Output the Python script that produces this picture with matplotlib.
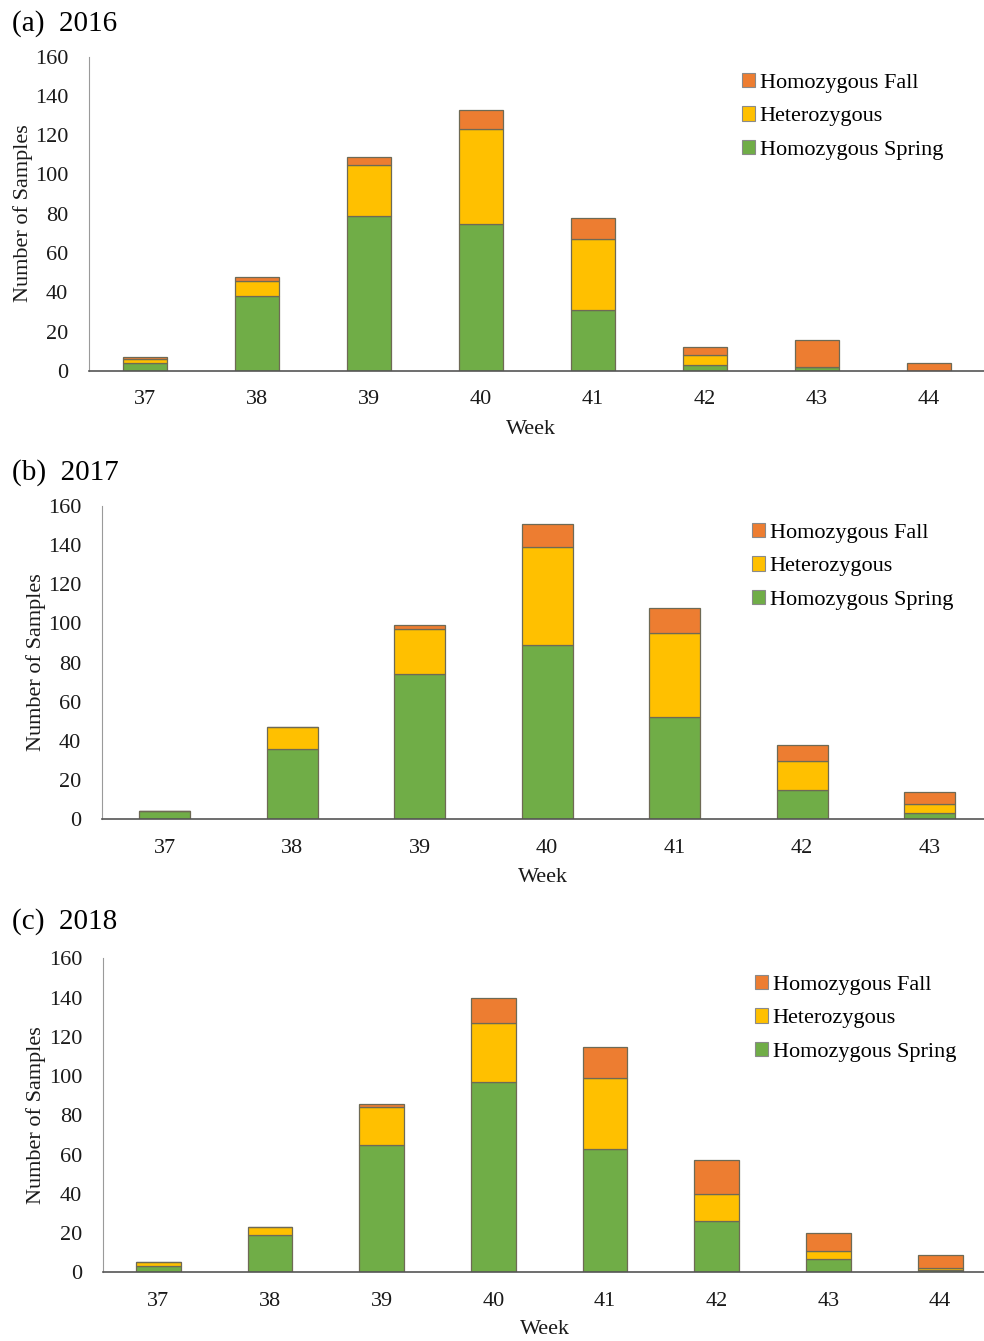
import matplotlib
matplotlib.use("Agg")
import matplotlib.pyplot as plt
from matplotlib.patches import Patch

plt.rcParams['font.family'] = ['Liberation Serif', 'DejaVu Serif']

W, H = 984, 1341

labels = ["Homozygous Fall", "Heterozygous", "Homozygous Spring"]
c_fall, c_het, c_spring = "#ED7D31", "#FFC000", "#70AD47"

weeks_2016 = [37, 38, 39, 40, 41, 42, 43, 44]
spring_2016 = [4, 38, 79, 75, 31, 3, 2, 0]
het_2016 = [2, 8, 26, 48, 36, 5, 0, 0]
fall_2016 = [1, 2, 4, 10, 11, 4, 14, 4]

weeks_2017 = [37, 38, 39, 40, 41, 42, 43]
spring_2017 = [4, 36, 74, 89, 52, 15, 3]
het_2017 = [0, 11, 23, 50, 43, 15, 5]
fall_2017 = [0, 0, 2, 12, 13, 8, 6]

weeks_2018 = [37, 38, 39, 40, 41, 42, 43, 44]
spring_2018 = [3, 19, 65, 97, 63, 26, 7, 1]
het_2018 = [2, 4, 19, 30, 36, 14, 4, 1]
fall_2018 = [0, 0, 2, 13, 16, 17, 9, 7]

panels = [
    dict(title="(a)  2016", weeks=weeks_2016, sp=spring_2016, he=het_2016, fa=fall_2016,
         left=89, y0=371, y160=56.5, x37=145, step=112.0,
         title_y=24, xlab=(531, 430), ylab=(23, 213), leg=(742, 73)),
    dict(title="(b)  2017", weeks=weeks_2017, sp=spring_2017, he=het_2017, fa=fall_2017,
         left=102, y0=819.3, y160=506, x37=164.5, step=127.5,
         title_y=473, xlab=(543, 878), ylab=(36, 662), leg=(752, 523)),
    dict(title="(c)  2018", weeks=weeks_2018, sp=spring_2018, he=het_2018, fa=fall_2018,
         left=103, y0=1272.3, y160=958.3, x37=158.3, step=111.7,
         title_y=922, xlab=(545, 1330), ylab=(36, 1115), leg=(755, 975)),
]

fig = plt.figure(figsize=(W / 100, H / 100), dpi=100)
edge = "#6e6a55"

for p in panels:
    ax = fig.add_axes([p['left'] / W, 1 - p['y0'] / H, (W - p['left']) / W,
                       (p['y0'] - p['y160']) / H])
    xl = 37 - (p['x37'] - p['left']) / p['step']
    xr = xl + (W - p['left']) / p['step']
    ax.set_xlim(xl, xr)
    ax.set_ylim(0, 160)
    wk = p['weeks']
    sp, he, fa = p['sp'], p['he'], p['fa']
    bw = 0.4
    ax.bar(wk, sp, width=bw, color=c_spring, edgecolor=edge, linewidth=0.9, zorder=2)
    ax.bar(wk, he, width=bw, bottom=sp, color=c_het, edgecolor=edge, linewidth=0.9, zorder=2)
    b2 = [a + b for a, b in zip(sp, he)]
    ax.bar(wk, fa, width=bw, bottom=b2, color=c_fall, edgecolor=edge, linewidth=0.9, zorder=2)
    ax.set_xticks(wk)
    ax.set_xticklabels([str(w) for w in wk])
    ax.set_yticks(range(0, 161, 20))
    ax.tick_params(axis='both', length=0, labelsize=16, colors='#1a1a1a')
    ax.tick_params(axis='y', pad=15)
    ax.tick_params(axis='x', pad=14)
    for s in ['top', 'right']:
        ax.spines[s].set_visible(False)
    ax.spines['left'].set_color('#9a9a9a')
    ax.spines['bottom'].set_color('#555555')
    ax.spines['bottom'].set_linewidth(1.2)
    ax.spines['bottom'].set_zorder(3)

    fig.text(12 / W, 1 - p['title_y'] / H, p['title'], fontsize=21, va='center', ha='left')
    fig.text(p['xlab'][0] / W, 1 - p['xlab'][1] / H, "Week", fontsize=16,
             va='center', ha='center', color='#1a1a1a')
    fig.text(p['ylab'][0] / W, 1 - p['ylab'][1] / H, "Number of Samples", fontsize=16,
             va='center', ha='center', rotation=90, color='#1a1a1a')

    handles = [Patch(facecolor=c, edgecolor='#8a8a8a', linewidth=0.8)
               for c in (c_fall, c_het, c_spring)]
    ax.legend(handles, labels, loc='upper left',
              bbox_to_anchor=(p['leg'][0] / W, 1 - p['leg'][1] / H),
              bbox_transform=fig.transFigure, frameon=False, fontsize=16,
              handlelength=0.6, handleheight=0.6, handletextpad=0.2,
              labelspacing=0.61, borderpad=0, borderaxespad=0)

fig.savefig("out.png", dpi=100)
